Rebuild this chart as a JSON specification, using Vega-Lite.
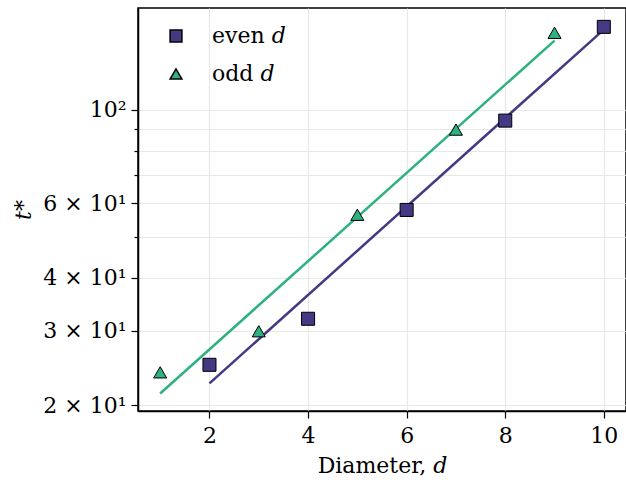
{
  "$schema": "https://vega.github.io/schema/vega-lite/v6.json",
  "width": 488,
  "height": 403,
  "autosize": {"type": "none"},
  "padding": {"left": 138, "top": 8, "right": 0, "bottom": 74},
  "background": "white",
  "config": {
    "font": "DejaVu Serif",
    "view": {"stroke": "black", "strokeWidth": 1.5},
    "axis": {
      "domainColor": "black",
      "domainWidth": 1.5,
      "tickColor": "black",
      "tickWidth": 1.2,
      "labelFont": "DejaVu Serif",
      "labelFontSize": 22,
      "labelColor": "black",
      "titleFont": "DejaVu Serif",
      "titleFontSize": 22,
      "titleFontWeight": "normal",
      "titleColor": "black",
      "gridColor": "#e8e8e8",
      "gridWidth": 1.2
    },
    "legend": {
      "labelFont": "DejaVu Serif",
      "labelFontSize": 22,
      "labelColor": "black"
    }
  },
  "datasets": {
    "pts": [
      {"d": 2, "t": 24.9, "parity": "even 𝑑"},
      {"d": 4, "t": 32.0, "parity": "even 𝑑"},
      {"d": 6, "t": 57.9, "parity": "even 𝑑"},
      {"d": 8, "t": 94.2, "parity": "even 𝑑"},
      {"d": 10, "t": 157, "parity": "even 𝑑"},
      {"d": 1, "t": 23.9, "parity": "odd 𝑑"},
      {"d": 3, "t": 29.9, "parity": "odd 𝑑"},
      {"d": 5, "t": 56.4, "parity": "odd 𝑑"},
      {"d": 7, "t": 89.7, "parity": "odd 𝑑"},
      {"d": 9, "t": 152, "parity": "odd 𝑑"}
    ],
    "fit": [
      {"d": 2, "t": 22.5, "series": "even"},
      {"d": 10, "t": 154.7, "series": "even"},
      {"d": 1, "t": 21.3, "series": "odd"},
      {"d": 9, "t": 145.7, "series": "odd"}
    ]
  },
  "layer": [
    {
      "data": {"name": "fit"},
      "mark": {"type": "line", "strokeWidth": 2.5, "clip": true},
      "encoding": {
        "x": {
          "field": "d", "type": "quantitative",
          "scale": {"domain": [0.55, 10.45], "nice": false, "zero": false},
          "axis": {
            "values": [2, 4, 6, 8, 10],
            "title": "Diameter, 𝑑",
            "tickSize": 7,
            "labelPadding": 7,
            "titlePadding": 9
          }
        },
        "y": {
          "field": "t", "type": "quantitative",
          "scale": {"type": "log", "domain": [19.36, 174], "nice": false},
          "axis": {
            "values": [20, 30, 40, 50, 60, 70, 80, 90, 100],
            "labelExpr": "datum.value == 100 ? '10²' : (datum.value == 50 || datum.value == 70 || datum.value == 80 || datum.value == 90) ? '' : (datum.value / 10) + ' × 10¹'",
            "tickSize": {"condition": {"test": "datum.value == 50 || datum.value == 70 || datum.value == 80 || datum.value == 90", "value": 4}, "value": 7},
            "title": "𝑡*",
            "titleFontStyle": "italic",
            "labelPadding": 5,
            "titlePadding": 7
          }
        },
        "stroke": {
          "field": "series", "type": "nominal",
          "scale": {"domain": ["even", "odd"], "range": ["#443983", "#2db27d"]},
          "legend": null
        }
      }
    },
    {
      "data": {"name": "pts"},
      "mark": {"type": "point", "filled": true, "stroke": "black", "strokeWidth": 1, "size": 170, "opacity": 1},
      "encoding": {
        "x": {"field": "d", "type": "quantitative"},
        "y": {"field": "t", "type": "quantitative"},
        "fill": {
          "field": "parity", "type": "nominal",
          "scale": {"domain": ["even 𝑑", "odd 𝑑"], "range": ["#443983", "#2db27d"]},
          "legend": {
            "title": null,
            "orient": "none",
            "legendX": 27,
            "legendY": 17,
            "labelOffset": 25,
            "symbolSize": 140,
            "rowPadding": 16,
            "encode": {"symbols": {"update": {"stroke": {"value": "black"}, "strokeWidth": {"value": 1}}}}
          }
        },
        "shape": {
          "field": "parity", "type": "nominal",
          "scale": {"domain": ["even 𝑑", "odd 𝑑"], "range": ["square", "triangle-up"]},
          "legend": {
            "title": null,
            "orient": "none",
            "legendX": 27,
            "legendY": 17,
            "labelOffset": 25,
            "symbolSize": 140,
            "rowPadding": 16,
            "encode": {"symbols": {"update": {"stroke": {"value": "black"}, "strokeWidth": {"value": 1}}}}
          }
        }
      }
    }
  ]
}
